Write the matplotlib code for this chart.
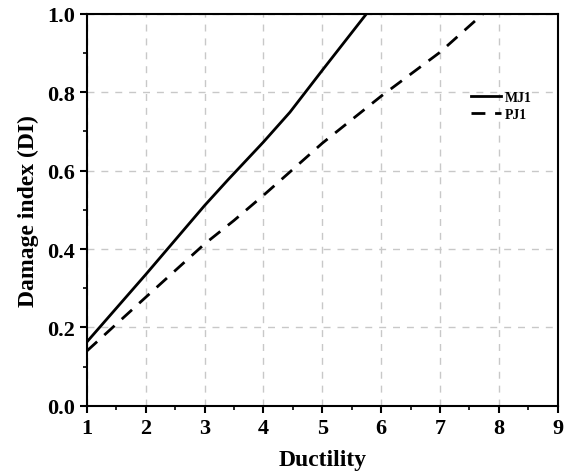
import matplotlib.pyplot as plt
from matplotlib.ticker import MultipleLocator

# data
mj1_x = [1, 2, 3, 3.4, 4, 4.45, 5, 5.75]
mj1_y = [0.163, 0.335, 0.511, 0.577, 0.673, 0.749, 0.856, 1.0]
pj1_x = [1, 2, 3, 3.5, 4, 4.4, 5, 6, 7, 7.73]
pj1_y = [0.14, 0.277, 0.413, 0.473, 0.537, 0.59, 0.67, 0.79, 0.902, 1.0]

plt.rcParams['font.family'] = 'Liberation Serif'
plt.rcParams['font.weight'] = 'bold'

fig = plt.figure(figsize=(5.64, 4.77), dpi=100)
ax = fig.add_axes([0.154, 0.147, 0.835, 0.822])

ax.plot(mj1_x, mj1_y, color='black', lw=2, label='MJ1')
ax.plot(pj1_x, pj1_y, color='black', lw=2, ls=(0, (5, 3.5)), label='PJ1')

ax.set_xlim(1, 9)
ax.set_ylim(0, 1.0)
ax.xaxis.set_major_locator(MultipleLocator(1))
ax.xaxis.set_minor_locator(MultipleLocator(0.5))
ax.yaxis.set_major_locator(MultipleLocator(0.2))
ax.yaxis.set_minor_locator(MultipleLocator(0.1))
ax.set_yticks([0, 0.2, 0.4, 0.6, 0.8, 1.0])
ax.set_yticklabels(['0.0', '0.2', '0.4', '0.6', '0.8', '1.0'])

ax.grid(True, which='major', ls=(0, (5, 5)), color='#c8c8c8', lw=1)
ax.set_axisbelow(True)
for s in ax.spines.values():
    s.set_linewidth(1.5)
ax.tick_params(which='major', direction='out', length=5, width=1.5, labelsize=16)
ax.tick_params(which='minor', direction='out', length=3, width=1.2)

ax.set_xlabel('Ductility', fontsize=17, fontweight='bold', labelpad=8)
ax.set_ylabel('Damage index (DI)', fontsize=17, fontweight='bold', labelpad=6)

ax.legend(loc='upper left', bbox_to_anchor=(0.79, 0.835), frameon=False,
          fontsize=10, handlelength=2.1, handletextpad=0.3, labelspacing=0.3)

fig.savefig('out.png', dpi=100)
